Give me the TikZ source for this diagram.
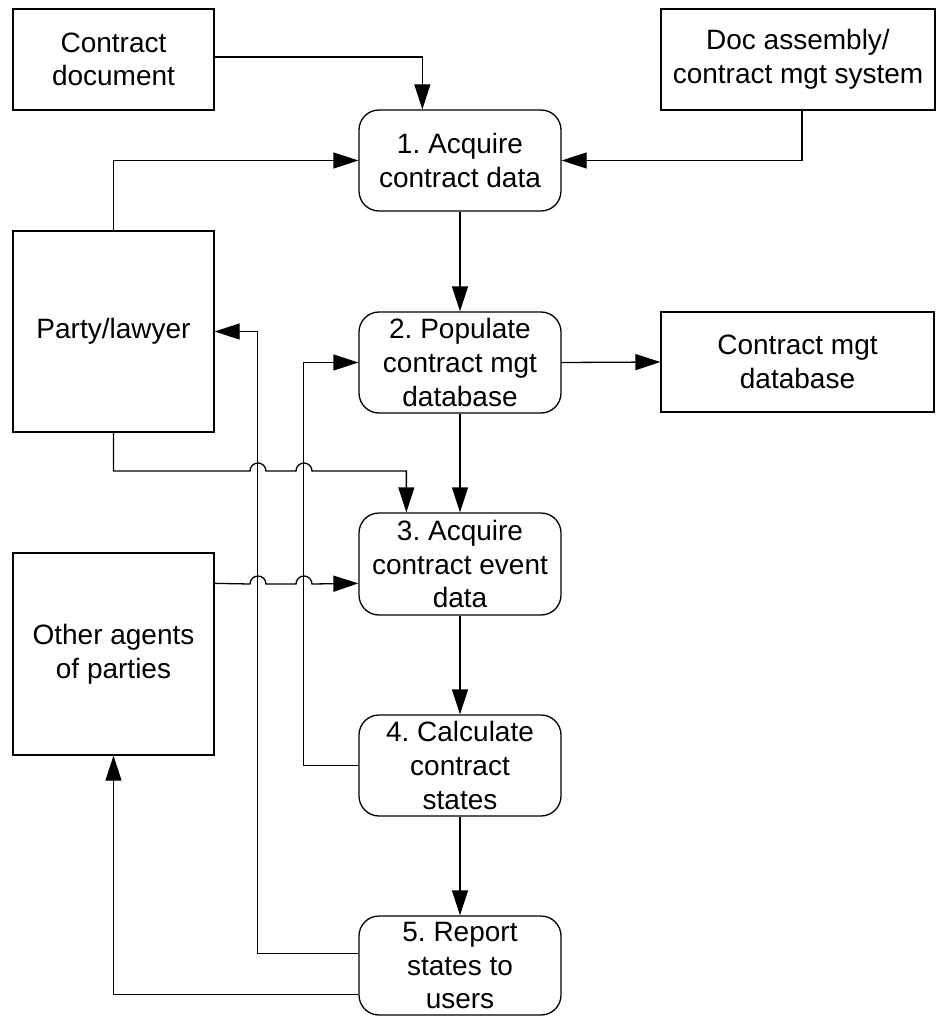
\documentclass[tikz,border=0pt]{standalone}
\usepackage{fontspec}
\setmainfont{Liberation Sans}
\usetikzlibrary{arrows.meta}
\frenchspacing
\begin{document}
\begin{tikzpicture}[x=1pt,y=-1pt,
  line width=1.3pt,
  every node/.style={font=\fontsize{28}{33.6}\selectfont, align=center, inner sep=0pt},
  extbox/.style={draw, rectangle, minimum height=101pt},
  procbox/.style={draw, rectangle, rounded corners=20pt, minimum width=202pt, minimum height=101pt},
  arr/.style={-{Triangle[length=25pt,width=16pt]}}]
\useasboundingbox (0,0) rectangle (936,1016);

% external entities
\node[extbox, minimum width=201pt] (cdoc) at (113.5,59.5) {Contract\\document};
\node[extbox, minimum width=274pt] (doc) at (798,59.5) {Doc assembly/\\contract mgt system};
\node[extbox, minimum width=201pt, minimum height=201pt] (party) at (113.5,331.5) {Party/lawyer};
\node[extbox, minimum width=273pt, minimum height=100pt] (cmdb) at (797.5,362) {Contract mgt\\database};
\node[extbox, minimum width=201pt, minimum height=202pt] (other) at (113.5,654) {Other agents\\of parties};

% processes
\node[procbox] (p1) at (460,160.5) {1. Acquire\\contract data};
\node[procbox] (p2) at (460,362.5) {2. Populate\\contract mgt\\database};
\node[procbox, minimum height=102pt] (p3) at (460,564) {3. Acquire\\contract event\\data};
\node[procbox] (p4) at (460,765.5) {4. Calculate\\contract\\states};
\node[procbox, minimum height=99pt] (p5) at (460,965.5) {5. Report\\states to\\users};

% inputs to process 1
\draw[arr] ([yshift=2.5pt]cdoc.east) -| ([xshift=64pt]p1.north west);
\draw[arr] (party.north) |- (p1.west);
\draw[arr] ([xshift=4pt]doc.south) |- (p1.east);

% main flow
\draw[arr] (p1.south) -- (p2.north);
\draw[arr] (p2.east) -- (cmdb.west);
\draw[arr] (p2.south) -- (p3.north);
\draw[arr] (p3.south) -- (p4.north);
\draw[arr] (p4.south) -- (p5.north);

% inputs to process 3, hopping over the two feedback lines
\coordinate (pl) at (113.5,471);
\coordinate (pe) at ([xshift=48pt]p3.north west);
\draw[arr] (party.south) -- (pl) -- (250,471)
  arc[start angle=180, end angle=0, radius=8pt] -- (296,471)
  arc[start angle=180, end angle=0, radius=8pt] -| (pe);
\coordinate (oa) at ([yshift=-31pt]other.north east);
\draw[arr] (oa) -- (250,584)
  arc[start angle=180, end angle=0, radius=8pt] -- (296,584)
  arc[start angle=180, end angle=0, radius=8pt] -- (p3.west |- oa);

% feedback lines
\draw[arr] (p4.west) -- ++(-55,0) |- (p2.west);
\draw[arr] ([yshift=-38pt]p5.north west) -- ++(-101,0) |- (party.east);
\draw[arr] ([yshift=-79pt]p5.north west) -| (other.south);
\end{tikzpicture}
\end{document}
